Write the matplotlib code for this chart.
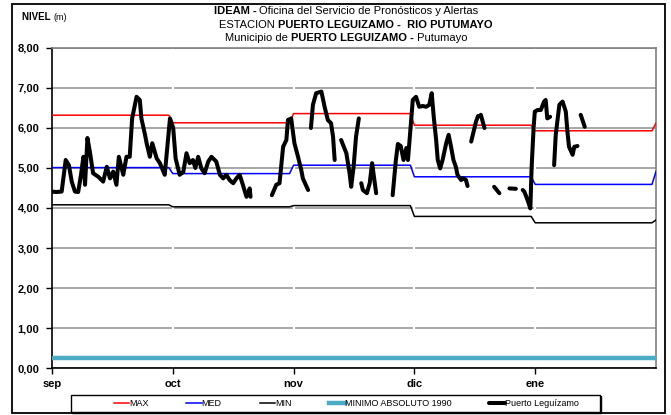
import numpy as np
import matplotlib
matplotlib.use("Agg")
from matplotlib import pyplot as plt
from matplotlib.patches import Rectangle

# month labels (x axis: days from 1 sep, 30 days per month)
months = ["sep", "oct", "nov", "dic", "ene"]
y_labels = ["0,00", "1,00", "2,00", "3,00", "4,00", "5,00", "6,00", "7,00", "8,00"]

# monthly reference levels (sep..ene, plus start of feb)
nivel_max = [6.32, 6.13, 6.36, 6.07, 5.93, 6.12]
nivel_med = [5.01, 4.86, 5.07, 4.78, 4.59, 4.91]
nivel_min = [4.08, 4.03, 4.06, 3.79, 3.63, 3.70]
minimo_1990 = 0.26

# observed level, Puerto Leguizamo (None = no data)
obs_day = [0, 1, 2.4, 3.4, 4.2, 4.9, 5.7, 6.5, 7.2, 7.8, 8.2, 8.8, 9.4, 10.2, 11.5,
           12.7, 13.6, 14.4, 15.2, 16.0, 16.6, 17.7, 18.5, 19.3, 19.9, 21.0, 21.8,
           22.2, 23.1, 23.5, 24.3, 24.9, 26.0, 26.8, 28.0, 29.3, 30.1, 30.7, 31.7,
           32.6, 33.4, 34.2, 35.0, 35.6, 36.3, 37.1, 37.9, 38.8, 39.6, 40.8, 41.7,
           42.5, 43.3, 44.1, 45.0, 45.8, 46.6, 47.4, 48.3, 49.1, 49.3, 50,
           54.6, 55.7, 56.5, 57.4, 58.2, 58.6, 59.4, 60.2, 61.1, 61.9, 62.3, 63.6, 64,
           64.3, 64.8, 65.6, 66.9, 67.7, 68.5, 69.3, 69.8, 70.2, 71,
           71.8, 73.1, 73.9, 74.3, 74.9, 75.5, 76.2, 76.5,
           76.8, 77.2, 78.2, 78.9, 79.5, 80.5, 82,
           84.6, 85.4, 85.9, 86.6, 87.3, 88.0, 88.4, 89.0, 89.6, 90.4, 91.2, 92.1,
           92.9, 93.7, 94.3, 94.8, 95.4, 95.8, 96.4, 97.0, 97.9, 98.5, 99.1, 99.7,
           100.3, 100.7, 101.6, 102.2, 102.8, 103.2, 103.6,
           104.1, 105.3, 105.8, 106.1, 106.5, 107.4, 108,
           109.8, 111.1, 112,
           113.6, 115.2, 116,
           116.9, 117.3, 118.1, 118.8, 119.1, 119.6, 119.9, 120.6, 121.4, 122.2,
           122.6, 123.0, 123.7, 124.2,
           124.7, 125.1, 126.0, 126.8, 127.6, 128.0, 128.4, 129.3, 129.7, 130.5, 131,
           131.3, 132.3]
obs_level = [4.41, 4.40, 4.41, 5.20, 5.07, 4.66, 4.41, 4.40, 4.83, 5.28, 4.58, 5.75,
             5.41, 4.87, 4.78, 4.66, 5.03, 4.74, 4.91, 4.58, 5.28, 4.83, 5.28, 5.28,
             6.24, 6.78, 6.70, 6.24, 5.83, 5.62, 5.28, 5.62, 5.24, 5.12, 4.83, 6.24,
             6.00, 5.24, 4.83, 4.90, 5.37, 5.12, 5.20, 5.00, 5.28, 4.99, 4.87, 5.16,
             5.28, 5.16, 4.83, 4.74, 4.83, 4.70, 4.62, 4.74, 4.83, 4.58, 4.28, 4.49,
             4.28, None,
             4.32, 4.58, 4.62, 5.53, 5.70, 6.20, 6.24, 5.62, 5.28, 4.95, 4.74, 4.45, None,
             6.00, 6.58, 6.87, 6.91, 6.53, 6.20, 6.12, 5.78, 5.20, None,
             5.70, 5.37, 4.87, 4.53, 5.03, 5.78, 6.24, None,
             4.62, 4.45, 4.37, 4.62, 5.12, 4.37, None,
             4.32, 5.20, 5.60, 5.55, 5.20, 5.50, 5.20, 5.95, 6.70, 6.78, 6.53, 6.55,
             6.53, 6.58, 6.87, 6.28, 5.70, 5.20, 4.99, 5.20, 5.62, 5.83, 5.53, 5.20,
             5.03, 4.83, 4.70, 4.74, 4.70, 4.55, None,
             5.66, 6.16, 6.30, None, 6.33, 6.00, None,
             4.53, 4.37, None,
             4.49, 4.48, None,
             4.45, 4.41, 4.20, 3.99, 4.99, 6.00, 6.41, 6.45, 6.45, 6.66,
             6.70, 6.24, 6.28, None,
             5.07, 5.83, 6.58, 6.66, 6.41, 5.91, 5.53, 5.33, 5.53, 5.55, None,
             6.33, 6.03]

narrow = ["Liberation Sans Narrow", "Liberation Sans", "DejaVu Sans"]
plt.rcParams["font.family"] = ["Liberation Sans", "DejaVu Sans"]

W, H = 671, 415
fig = plt.figure(figsize=(W / 100, H / 100), dpi=100)
ax = fig.add_axes([52 / W, 1 - 368 / H, 604 / W, 320 / H])

# month reference lines: flat over each month, short ramp into the next one
ref_x = []
for i in range(5):
    ref_x += [30 * i, 30 * i + 29]
ref_x.append(150)

def ref_values(vals):
    out = []
    for v in vals[:5]:
        out += [v, v]
    out.append(vals[5])
    return out

ax.plot(ref_x, ref_values(nivel_max), color="#ff0000", lw=1.1, label="MAX", zorder=3)
ax.plot(ref_x, ref_values(nivel_med), color="#0000ff", lw=1.1, label="MED", zorder=3)
ax.plot(ref_x, ref_values(nivel_min), color="black", lw=1.1, label="MIN", zorder=3)
ax.plot([0, 150], [minimo_1990, minimo_1990], color="#4bacc6", lw=3.2,
        label="MINIMO ABSOLUTO 1990", zorder=3)
ax.plot(obs_day, np.array(obs_level, dtype=float), color="black", lw=2.9,
        solid_capstyle="round", solid_joinstyle="round", label="Puerto Leguízamo", zorder=4)

ax.set_xlim(0, 150)
ax.set_ylim(0, 8)
ax.set_yticks(range(9))
ax.set_yticklabels(y_labels, fontsize=8, fontweight="bold")
ax.set_xticks([0, 30, 60, 90, 120])
ax.set_xticklabels(months, fontsize=8, fontweight="bold")
ax.tick_params(axis="y", direction="out", length=4, width=1, pad=5)
ax.tick_params(axis="x", direction="out", length=4, width=1, pad=4)

ax.set_axisbelow(True)
ax.grid(axis="y", color="#a6a6a6", lw=1.4)
for d in [30, 60, 90, 120]:
    ax.axvline(d, color="white", lw=1.6, zorder=1)

for s in ["left", "bottom"]:
    ax.spines[s].set_color("black")
    ax.spines[s].set_linewidth(1.2)
for s in ["top", "right"]:
    ax.spines[s].set_color("#808080")
    ax.spines[s].set_linewidth(1.2)

# outer frame and legend box
fig.patches.append(Rectangle((12 / W, 2 / H), 653 / W, 409 / H, transform=fig.transFigure,
                             fill=False, edgecolor="black", lw=1.3))
fig.patches.append(Rectangle((72 / W, 2 / H), 529 / W, 17 / H, transform=fig.transFigure,
                             facecolor="black", edgecolor="black", lw=1))
fig.patches.append(Rectangle((71 / W, 3 / H), 529 / W, 17 / H, transform=fig.transFigure,
                             facecolor="white", edgecolor="black", lw=1))

handles, labels = ax.get_legend_handles_labels()
leg = fig.legend(handles, labels, loc="center", bbox_to_anchor=(346 / W, 1 - 403.5 / H),
                 ncol=5, frameon=False, prop={"family": narrow, "size": 6.5},
                 handlelength=1.7, handletextpad=0.0, columnspacing=4.2,
                 borderpad=0, borderaxespad=0)

# header texts with mixed weights
renderer = fig.canvas.get_renderer()

def rich_line(cx, cy, parts, size):
    texts = []
    for s, w in parts:
        t = fig.text(0, 1 - cy / H, s, fontsize=size, fontweight=w, family=narrow,
                     va="baseline", ha="left")
        texts.append(t)
    widths = [t.get_window_extent(renderer).width for t in texts]
    x = cx - sum(widths) / 2
    for t, wd in zip(texts, widths):
        t.set_x(x / W)
        x += wd

rich_line(346, 14, [("IDEAM - ", "bold"),
                    ("Oficina del Servicio de Pronósticos y Alertas", "normal")], 8)
rich_line(356, 28, [("ESTACION ", "normal"),
                    ("PUERTO LEGUIZAMO -  RIO PUTUMAYO", "bold")], 8)
rich_line(346, 41, [("Municipio de ", "normal"), ("PUERTO LEGUIZAMO -", "bold"),
                    (" Putumayo", "normal")], 8)

nivel = fig.text(22 / W, 1 - 20 / H, "NIVEL ", fontsize=7, fontweight="bold",
                 family=narrow, va="baseline", ha="left")
nw = nivel.get_window_extent(renderer).width
fig.text((22 + nw) / W, 1 - 20 / H, "(m)", fontsize=6.5, family=narrow,
         va="baseline", ha="left")

fig.savefig("out.png", dpi=100)
